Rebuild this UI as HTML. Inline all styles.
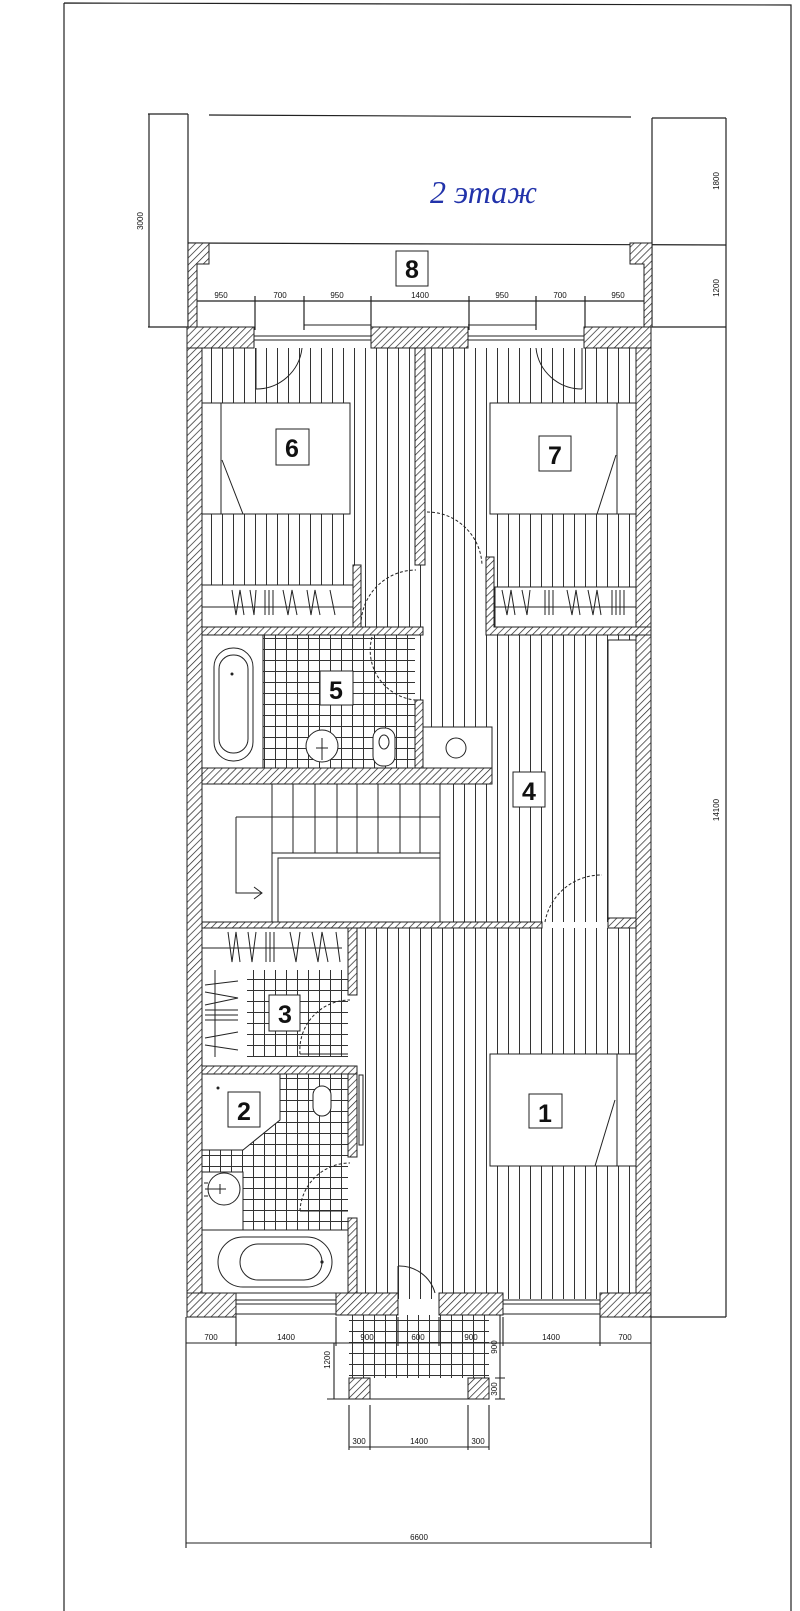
<!DOCTYPE html>
<html><head><meta charset="utf-8"><style>
html,body{margin:0;padding:0;background:#fff}
svg{display:block}
text{font-family:"Liberation Sans",sans-serif;fill:#111}
</style></head><body>
<svg width="800" height="1611" viewBox="0 0 800 1611" xmlns="http://www.w3.org/2000/svg">
<defs>
<pattern id="h" patternUnits="userSpaceOnUse" width="5" height="5" patternTransform="rotate(45)">
<rect width="5" height="5" fill="#fff"/><line x1="0" y1="0" x2="0" y2="5" stroke="#222" stroke-width="1.4"/></pattern>
<pattern id="p" patternUnits="userSpaceOnUse" width="11" height="20" x="2">
<rect width="11" height="20" fill="#fff"/><line x1="0.5" y1="0" x2="0.5" y2="20" stroke="#333" stroke-width="1"/></pattern>
<pattern id="t" patternUnits="userSpaceOnUse" width="11" height="11">
<rect width="11" height="11" fill="#fff"/><path d="M0.5 0V11M0 0.5H11" stroke="#333" stroke-width="1"/></pattern>
</defs>
<g fill="none" stroke="#222" stroke-width="1.2">
<!-- page frame -->
<path d="M64 3 L791 5 L791 1611 M64 3 L64 1611"/>
<!-- top dims -->
<line x1="209" y1="115" x2="631" y2="117"/>
<line x1="188" y1="114" x2="188" y2="327"/>
<line x1="652" y1="118" x2="652" y2="327"/>
<line x1="188" y1="243" x2="726" y2="245"/>
<line x1="148" y1="114" x2="188" y2="114"/>
<line x1="148" y1="327" x2="188" y2="327"/>
<line x1="149" y1="114" x2="149" y2="327"/>
<line x1="652" y1="118" x2="726" y2="118"/>
<line x1="652" y1="327" x2="726" y2="327"/>
<line x1="726" y1="118" x2="726" y2="1317"/>
<line x1="651" y1="1317" x2="726" y2="1317"/>
<line x1="188" y1="301" x2="652" y2="301"/>
<path d="M255 296V330M304 296V330M371 296V330M469 296V330M536 296V330M585 296V330"/>
</g>
<text x="143" y="221" font-size="8" transform="rotate(-90 143 221)" text-anchor="middle">3000</text>
<text x="719" y="181" font-size="8" transform="rotate(-90 719 181)" text-anchor="middle">1800</text>
<text x="719" y="288" font-size="8" transform="rotate(-90 719 288)" text-anchor="middle">1200</text>
<text x="719" y="810" font-size="8" transform="rotate(-90 719 810)" text-anchor="middle">14100</text>
<g font-size="8" text-anchor="middle">
<text x="221" y="298">950</text><text x="280" y="298">700</text><text x="337" y="298">950</text><text x="420" y="298">1400</text><text x="502" y="298">950</text><text x="560" y="298">700</text><text x="618" y="298">950</text>
</g>
<text x="430" y="203" font-size="32" font-style="italic" style="font-family:'Liberation Serif',serif;fill:#2233aa">2 этаж</text>
<!-- balcony walls -->
<path d="M188 243H209V264H197V327H188Z M630 243H652V327H644V264H630Z" fill="url(#h)" stroke="#222"/>
<rect x="396" y="251" width="32" height="35" fill="#fff" stroke="#222"/>
<text x="412" y="278" font-size="25" text-anchor="middle" font-weight="bold">8</text>

<!-- floors -->
<rect x="202" y="348" width="434" height="574" fill="url(#p)"/>
<rect x="357" y="928" width="279" height="371" fill="url(#p)"/>
<!-- bathroom 5 -->
<rect x="202" y="635" width="213" height="133" fill="url(#t)"/>
<rect x="202" y="635" width="61" height="133" fill="#fff" stroke="#222"/>
<rect x="214" y="648" width="39" height="113" rx="19" fill="none" stroke="#222"/>
<rect x="219" y="655" width="29" height="98" rx="14" fill="none" stroke="#222"/>
<circle cx="232" cy="674" r="1.5" fill="#222"/>
<rect x="320" y="671" width="33" height="34" fill="#fff" stroke="#222"/>
<text x="336" y="699" font-size="25" text-anchor="middle" font-weight="bold">5</text>
<circle cx="322" cy="746" r="16" fill="#fff" stroke="#222"/>
<path d="M322 738V760M316 748H328" stroke="#222"/>
<rect x="373" y="728" width="22" height="38" rx="10" fill="#fff" stroke="#222"/>
<ellipse cx="384" cy="742" rx="5" ry="7" fill="none" stroke="#222"/>
<!-- cabinet in hall -->
<rect x="423" y="727" width="69" height="41" fill="#fff" stroke="#222"/>
<circle cx="456" cy="748" r="10" fill="none" stroke="#222"/>
<!-- right closet -->
<rect x="608" y="640" width="28" height="282" fill="#fff" stroke="#222"/>
<!-- label 4 -->
<rect x="513" y="772" width="32" height="35" fill="#fff" stroke="#222"/>
<text x="529" y="800" font-size="25" text-anchor="middle" font-weight="bold">4</text>
<!-- stairs -->
<rect x="202" y="784" width="243" height="138" fill="#fff"/>
<g stroke="#222" fill="none">
<path d="M272 784V853M293 784V853M315 784V853M337 784V853M357 784V853M378 784V853M400 784V853M420 784V853M440 784V922"/>
<path d="M272 853H440M272 853V922"/>
<rect x="278" y="858" width="162" height="64"/>
<path d="M236 817H440M236 817V893H262M254 887L262 893L254 899"/>
</g>
<!-- room 3/2 -->
<rect x="202" y="928" width="146" height="371" fill="#fff"/>
<rect x="247" y="970" width="101" height="87" fill="url(#t)"/>
<path d="M280 1074H348V1230H202V1150H243Z" fill="url(#t)"/>
<path d="M202 1150H243L280 1120V1074" fill="#fff" stroke="#222"/>
<g stroke="#222" fill="none" stroke-width="1">
<line x1="202" y1="948" x2="342" y2="948"/>
<path d="M228 932L232 962L236 932L240 962M248 932L252 962L256 932M266 932V962M270 932V962M274 932V962M290 932L296 962L300 932M312 932L318 962L322 932L328 962M336 932L340 962"/>
<line x1="215" y1="970" x2="215" y2="1057"/>
<path d="M205 985L238 981M205 992L238 998L205 1005M205 1010L238 1010M205 1015L238 1015M205 1020L238 1020M205 1038L238 1032M205 1045L238 1050"/>
</g>
<rect x="269" y="995" width="31" height="36" fill="#fff" stroke="#222"/>
<text x="285" y="1023" font-size="25" text-anchor="middle" font-weight="bold">3</text>
<rect x="228" y="1092" width="32" height="35" fill="#fff" stroke="#222"/>
<text x="244" y="1120" font-size="25" text-anchor="middle" font-weight="bold">2</text>
<circle cx="218" cy="1088" r="1.5" fill="#222"/>
<rect x="313" y="1086" width="18" height="30" rx="9" fill="#fff" stroke="#222"/>
<rect x="202" y="1172" width="41" height="58" fill="#fff" stroke="#222"/>
<circle cx="224" cy="1189" r="16" fill="#fff" stroke="#222"/>
<path d="M205 1189H226M220 1184V1194M204 1183H208M204 1196H208" stroke="#222"/>
<rect x="202" y="1230" width="146" height="63" fill="#fff" stroke="#222"/>
<rect x="218" y="1237" width="114" height="50" rx="25" fill="none" stroke="#222"/>
<rect x="240" y="1244" width="82" height="36" rx="18" fill="none" stroke="#222"/>
<circle cx="322" cy="1262" r="1.6" fill="#222"/>
<!-- room 1 bed -->
<rect x="490" y="1054" width="146" height="112" fill="#fff" stroke="#222"/>
<path d="M617 1054V1166M615 1100L595 1166" stroke="#222" fill="none"/>
<rect x="529" y="1094" width="33" height="34" fill="#fff" stroke="#222"/>
<text x="545" y="1122" font-size="25" text-anchor="middle" font-weight="bold">1</text>
<!-- beds 6 7 -->
<rect x="202" y="403" width="148" height="111" fill="#fff" stroke="#222"/>
<path d="M221 403V514M222 460L243 514" stroke="#222" fill="none"/>
<rect x="276" y="429" width="33" height="36" fill="#fff" stroke="#222"/>
<text x="292" y="457" font-size="25" text-anchor="middle" font-weight="bold">6</text>
<rect x="490" y="403" width="146" height="111" fill="#fff" stroke="#222"/>
<path d="M617 403V514M616 455L597 514" stroke="#222" fill="none"/>
<rect x="539" y="436" width="32" height="35" fill="#fff" stroke="#222"/>
<text x="555" y="464" font-size="25" text-anchor="middle" font-weight="bold">7</text>
<!-- wardrobes -->
<rect x="202" y="585" width="151" height="42" fill="#fff" stroke="#222"/>
<rect x="495" y="587" width="141" height="40" fill="#fff" stroke="#222"/>
<g stroke="#222" fill="none" stroke-width="1">
<path d="M202 607H353M495 607H636"/>
<path d="M232 590L236 615L240 590L244 615M250 590L254 615L256 590M265 590V615M269 590V615M273 590V615M283 590L288 615L292 590L297 615M307 590L311 615L315 590L320 615M330 590L335 615"/>
<path d="M502 590L507 615L511 590L515 615M522 590L527 615L530 590M545 590V615M549 590V615M553 590V615M567 590L572 615L576 590L580 615M588 590L593 615L597 590L601 615M612 590V615M616 590V615M620 590V615M624 590V615"/>
</g>
<!-- porch -->
<rect x="349" y="1315" width="140" height="84" fill="url(#t)"/>
<rect x="370" y="1378" width="98" height="21" fill="#fff"/>
<rect x="349" y="1378" width="21" height="21" fill="url(#h)" stroke="#222"/>
<rect x="468" y="1378" width="21" height="21" fill="url(#h)" stroke="#222"/>
<path d="M349 1399H489" stroke="#222"/>

<!-- walls -->
<g fill="url(#h)" stroke="#222" stroke-width="1">
<rect x="187" y="327" width="15" height="990"/>
<rect x="636" y="327" width="15" height="990"/>
<rect x="187" y="327" width="67" height="21"/>
<rect x="371" y="327" width="97" height="21"/>
<rect x="584" y="327" width="67" height="21"/>
<rect x="415" y="348" width="10" height="217"/>
<rect x="353" y="565" width="8" height="62"/>
<rect x="202" y="627" width="221" height="8"/>
<path d="M486 557H494V627H651V635H486Z"/>
<rect x="415" y="700" width="8" height="68"/>
<rect x="202" y="768" width="290" height="16"/>
<rect x="202" y="922" width="340" height="6"/>
<rect x="608" y="918" width="28" height="10"/>
<rect x="348" y="928" width="9" height="67"/>
<rect x="202" y="1066" width="155" height="8"/>
<rect x="348" y="1074" width="9" height="83"/>
<rect x="348" y="1218" width="9" height="75"/>
<rect x="187" y="1293" width="49" height="24"/>
<rect x="336" y="1293" width="62" height="22"/>
<rect x="439" y="1293" width="64" height="22"/>
<rect x="600" y="1293" width="51" height="24"/>
</g>
<!-- windows and doors -->
<g stroke="#222" fill="none" stroke-width="1">
<path d="M254 336H371M254 340H371M304 325H371M468 336H584M468 340H584M468 325H536"/>
<path d="M236 1300H336M236 1304H336M503 1300H600M503 1304H600M236 1314H336M503 1314H600"/>
<path d="M256 348V389M256 389A46 46 0 0 0 302 348"/>
<path d="M582 348V389M582 389A46 46 0 0 1 536 348"/>
<path d="M425 512V565M427 512A55 55 0 0 1 482 565" stroke-dasharray="3 2"/>
<path d="M361 625A55 55 0 0 1 416 570" stroke-dasharray="3 2"/>
<path d="M372 637A50 50 0 0 0 415 700" stroke-dasharray="3 2"/>
<path d="M545 922A57 57 0 0 1 602 875" stroke-dasharray="3 2"/>
<path d="M300 1054A50 50 0 0 1 350 1000" stroke-dasharray="3 2"/>
<path d="M300 1054H348M300 1211H348"/>
<path d="M300 1211A50 50 0 0 1 350 1163" stroke-dasharray="3 2"/>
<rect x="359" y="1075" width="4" height="70"/>
<path d="M398 1293V1266M398 1266A37 37 0 0 1 435 1293"/>
</g>
<!-- bottom dims -->
<g stroke="#222" fill="none" stroke-width="1.1">
<path d="M186 1317V1548M651 1317V1548M186 1343H651M186 1543H651"/>
<path d="M236 1317V1346M336 1317V1346M398 1317V1346M439 1317V1346M503 1317V1346M600 1317V1346"/>
<path d="M334 1343V1399M327 1399H349M500 1315V1399M495 1378H505M495 1399H505"/>
<path d="M349 1405V1450M370 1405V1450M468 1405V1450M489 1405V1450M349 1447H489"/>
</g>
<g font-size="8" text-anchor="middle">
<text x="211" y="1340">700</text><text x="286" y="1340">1400</text><text x="367" y="1340">900</text><text x="418" y="1340">600</text><text x="471" y="1340">900</text><text x="551" y="1340">1400</text><text x="625" y="1340">700</text>
<text x="359" y="1444">300</text><text x="419" y="1444">1400</text><text x="478" y="1444">300</text>
<text x="419" y="1540">6600</text>
<text x="330" y="1360" transform="rotate(-90 330 1360)">1200</text>
<text x="497" y="1347" transform="rotate(-90 497 1347)">900</text>
<text x="497" y="1389" transform="rotate(-90 497 1389)">300</text>
</g>
</svg>
</body></html>
